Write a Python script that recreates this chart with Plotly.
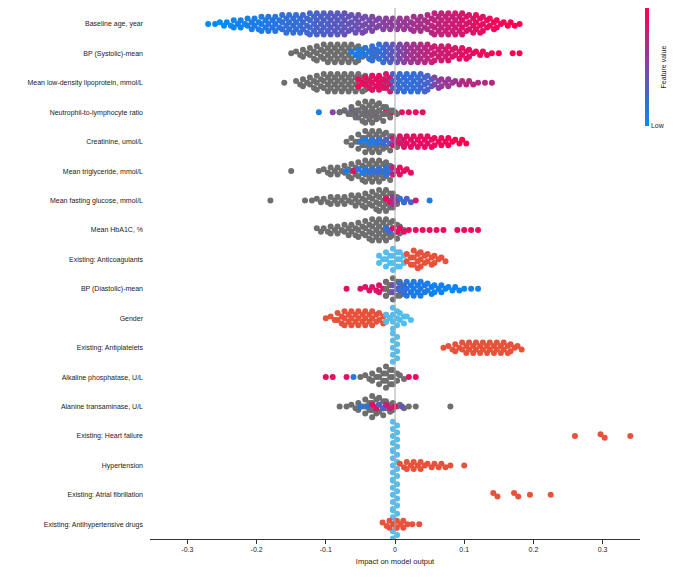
import plotly.graph_objects as go
from plotly.colors import sample_colorscale

features = ["Baseline age, year", "BP (Systolic)-mean", "Mean low-density lipoprotein, mmol/L",
            "Neutrophil-to-lymphocyte ratio", "Creatinine, umol/L", "Mean triglyceride, mmol/L",
            "Mean fasting glucose, mmol/L", "Mean HbA1C, %", "Existing: Anticoagulants",
            "BP (Diastolic)-mean", "Gender", "Existing: Antiplatelets", "Alkaline phosphatase, U/L",
            "Alanine transaminase, U/L", "Existing: Heart failure", "Hypertension",
            "Existing: Atrial fibrillation", "Existing: Antihypertensive drugs"]

# groups: (start shap value, counts per 0.01 bin, colour code per bin or single)
# colour code: 0..1 feature value (Low..High), -1 missing (grey), "L" binary low, "R" binary high
age = [(-0.27, [1,1,2,2,3,3,4,4,5,5,5,6,6,6,6,7,7,7,7,7,7,6,6,5,5,4,4,4,4,4,5,5,6,7,7,7,7,7,6,6,5,4,3,2,2,1],
        [0,0,0,0,.05,.05,.1,.1,.1,.15,.15,.2,.2,.2,.25,.25,.3,.3,.35,.35,.4,.4,.45,.45,.5,.5,.55,.55,.6,.6,.65,.65,.7,.75,.75,.8,.8,.85,.85,.9,.9,.95,.95,1,1,1])]
sbp = [(-0.15, [1,2,3,4,5,6,6,6,6,6,5,4,3,2], -1),
       (-0.06, [2,3,4,5,6,6,6,6,6,6,6,6,5,5,5,4,4,3,2,2,1,1,0,1,1],
        [.1,.1,.15,.2,.2,.3,.4,.5,.6,.65,.7,.75,.8,.8,.85,.85,.9,.9,.95,.95,1,1,1,1,1])]
ldl = [(-0.16, [1,0,2,3,4,5,6,6,6,6,6,6,5,5,4,3,2], -1),
       (-0.05, [3,4,5,5,6,6,6,6,6,6,5,4,3,3,2,2,2,1,1,1],
        [.95,.9,.9,.9,.85,.3,.2,.2,.2,.25,.3,.5,.6,.6,.65,.7,.7,.7,.7,.7])]
nlr = [(-0.11, [1,0,1,1,2,2,2,2,2,2,2,1,1,1,1,1],
        [.1,0,.5,.3,.6,.4,.5,.3,.6,.7,.8,.9,.9,.9,.9,.9]),
       (-0.08, [1,2,4,6,7,7,6,4,2], -1)]
creat = [(-0.07, [1,3,5,7,7,7,6,4,2], -1),
         (-0.05, [1,2,2,2,2,3,4,4,4,4,4,3,3,3,2,2],
          [.1,.1,.15,.2,.3,.8,.85,.9,.9,.9,.9,.95,.95,1,1,1])]
trig = [(-0.15, [1], -1),
        (-0.11, [1,2,3,3,4,5,6,7,7,7,6,3], -1),
        (-0.07, [1,1,2,2,2,2,3,3,3,2], [.1,.9,.1,.15,.2,.2,.2,.8,.9,.9])]
glu = [(-0.18, [1], -1),
       (-0.13, [1,1,2,2,3,3,3,4,4,5,6,7,7,5,2], -1),
       (-0.01, [2,3,2,2,1,0,1], [.9,.6,.2,.3,.8,0,.1])]
hba = [(-0.11, [2,2,3,3,4,4,5,6,7,7,7,6,3], -1),
       (-0.01, [2,2,2,1,1,1,1,1,1,0,1,1,1,1],
        [.2,.9,.9,.9,.9,.9,.9,.9,.9,0,.9,.9,.9,.9])]
antico = [(-0.02, [3,5,7,5], "L"),
          (0.02, [4,6,5,4,3,2], "R")]
dbp = [(-0.07, [1,0,1,2,2,3,5], [.9,0,.9,.9,.85,.85,.8]),
       (-0.01, [5,7,5], -1),
       (0.0, [3,4,5,5,5,4,3,3,2,2,1,1,1], [.4,.2,.15,.1,.1,.1,.05,.05,0,.05,0,.1,.05])]
gender = [(-0.10, [1,2,4,5,5,5,5,5,4,3], "R"),
          (-0.01, [3,7,4,2], "L")]
antipl = [(0.0, [9], "L"),
          (0.07, [1,2,3,4,4,4,4,4,4,4,3,2], "R")]
alp = [(-0.05, [1,2,3,5,7,5,2], -1),
       (-0.10, [1,1,0,1,1,0,0,0,0,0,0,0,1,1], [.9,.9,0,.9,.1,0,0,0,0,0,0,0,.9,.9])]
alt = [(-0.08, [1,1,2,3,5,7,6,4,3,2,1,1], -1),
       (0.08, [1], -1),
       (-0.05, [1,1,2,2,2,1,1], [.1,.2,.9,.3,.8,.9,.4])]
hf = [(0.0, [9], "L"),
      (0.26, [1,0,0,0,2,0,0,0,1], "R")]
htn = [(0.0, [9], "L"),
       (0.01, [2,3,3,3,2,2,2,1,0,1], "R")]
af = [(0.0, [9], "L"),
      (0.145, [2,0,0,2,0,1,0,0,1], "R")]
antihyp = [(0.0, [9], "L"),
           (-0.015, [2,3,3,3,1,1], "R")]

all_groups = [age, sbp, ldl, nlr, creat, trig, glu, hba, antico, dbp, gender, antipl, alp, alt, hf, htn, af, antihyp]

SCALE = [[0, "rgb(0,139,251)"], [1, "rgb(255,0,81)"]]

def colour(c):
    if c == -1:
        return "rgb(110,110,110)"
    if c == "L":
        return "rgb(82,190,240)"
    if c == "R":
        return "rgb(232,82,58)"
    return sample_colorscale(SCALE, [c])[0]

xs, ys, cs = [], [], []
step = 0.12
for row, groups in enumerate(all_groups):
    for start, counts, col in groups:
        for i, n in enumerate(counts):
            x = start + i * 0.01
            c = col[i] if isinstance(col, list) else col
            for k in range(n):
                xs.append(x + (0.003 if k % 2 else -0.003) * (n > 1))
                ys.append(row + (k - (n - 1) / 2) * step)
                cs.append(colour(c))

fig = go.Figure()
fig.add_trace(go.Scatter(x=xs, y=ys, mode="markers", showlegend=False, hoverinfo="skip",
                         marker=dict(size=6, color=cs, line=dict(width=0))))
fig.add_trace(go.Scatter(x=[None], y=[None], mode="markers", showlegend=False,
                         marker=dict(color=[0, 1], cmin=0, cmax=1, colorscale=SCALE, showscale=True,
                                     colorbar=dict(thickness=4, len=118, lenmode="pixels", y=1.0,
                                                   yanchor="top", ypad=0, x=1.01, xanchor="left", xpad=0,
                                                   tickvals=[0, 1], ticktext=["Low", "High"],
                                                   ticks="", outlinewidth=0,
                                                   tickfont=dict(size=7, color="#222"),
                                                   title=dict(text="Feature value", side="right",
                                                              font=dict(size=7, color="#222"))))))
fig.add_vline(x=0, line=dict(color="#aaa", width=1))
fig.update_layout(
    width=680, height=582, plot_bgcolor="white", paper_bgcolor="white",
    margin=dict(l=142, r=48, t=0, b=51, autoexpand=False),
    font=dict(family="Liberation Sans, Arial", size=7, color="#222"),
    xaxis=dict(range=[-0.354, 0.354], tickvals=[-0.3, -0.2, -0.1, 0, 0.1, 0.2, 0.3],
               ticktext=["-0.3", "-0.2", "-0.1", "0", "0.1", "0.2", "0.3"], automargin=False,
               showgrid=False, zeroline=False, showline=True, linecolor="#333", ticks="outside",
               ticklen=4, tickcolor="#333",
               title=dict(text="Impact on model output", font=dict(size=7.5), standoff=6)),
    yaxis=dict(range=[17.5, -0.54], tickvals=list(range(len(features))), ticktext=features,
               showgrid=False, zeroline=False, ticks="", automargin=False,
               ticklabelstandoff=6),
)
fig.write_html("out.html")
